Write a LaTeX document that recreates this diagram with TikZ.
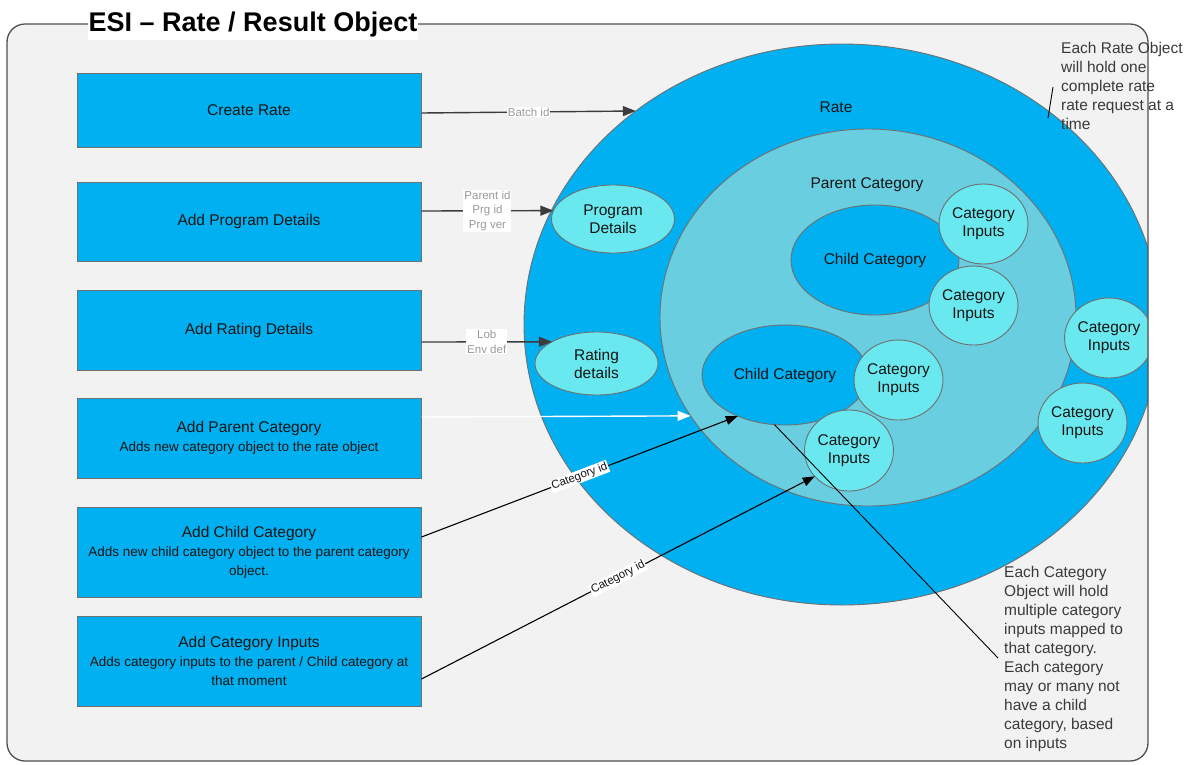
\documentclass[tikz,border=0pt]{standalone}
\usepackage{fontspec}
\setmainfont{Liberation Sans}
\usetikzlibrary{arrows.meta,shapes.geometric}
\definecolor{boxblue}{HTML}{00B0F0}
\definecolor{parentfill}{HTML}{69CEE0}
\definecolor{cyanfill}{HTML}{69E9EF}
\definecolor{edgegray}{HTML}{707070}
\definecolor{framegray}{HTML}{505050}
\definecolor{bggray}{HTML}{F2F2F2}
\definecolor{txt}{HTML}{151515}
\definecolor{lblgray}{HTML}{9A9A9A}
\definecolor{linegray}{HTML}{3C3C3C}
\definecolor{annot}{HTML}{3A3A3A}
\newcommand\boxhead{\fontsize{15.5}{19}\selectfont}
\newcommand\boxsubtext{\fontsize{13.5}{19}\selectfont}
\begin{document}
\begin{tikzpicture}[x=1pt,y=-1pt,
  stepbox/.style={draw=edgegray, fill=boxblue, line width=1pt, minimum width=344pt,
    align=center, inner sep=0pt, text=txt, font=\boxsubtext},
  bubble/.style={ellipse, draw=edgegray, line width=0.9pt, inner sep=0pt, outer sep=0pt,
    align=center, text=txt, font=\fontsize{15.5}{18}\selectfont},
  inbubble/.style={bubble, fill=cyanfill},
  edgelbl/.style={fill=white, inner sep=1pt, text=lblgray, align=center,
    font=\fontsize{11.5}{14.5}\selectfont},
  catlbl/.style={fill=white, inner sep=1pt, text=txt, font=\fontsize{11.5}{14}\selectfont},
  conn/.style={draw=linegray, line width=1.4pt, -{Triangle[length=13pt,width=10pt]}},
  catconn/.style={draw=black, line width=1.1pt, -{Triangle[length=12pt,width=9pt]}},
  annotxt/.style={align=left, inner sep=0pt, text=annot, font=\fontsize{15.5}{19}\selectfont}
]
\useasboundingbox (0,0) rectangle (1190,764);
\fill[white] (0,0) rectangle (1190,764);
\fill[bggray, rounded corners=18pt] (7,24) rectangle (1148,761);

\begin{scope}
\clip[rounded corners=18pt] (7,24) rectangle (1148,761);
\node[ellipse, draw=edgegray, line width=0.9pt, fill=boxblue, minimum width=636pt, minimum height=561pt, inner sep=0pt, outer sep=0pt] (rate) at (842,324.5) {};
\node[ellipse, draw=edgegray, line width=0.9pt, fill=parentfill, minimum width=416pt, minimum height=377pt, inner sep=0pt, outer sep=0pt] (parent) at (868,317.5) {};
\node[inbubble, minimum width=84pt, minimum height=80pt] (ci5) at (1109,338) {Category\\Inputs};
\node[inbubble, minimum width=87pt, minimum height=80pt] (ci6) at (1082.5,423) {Category\\Inputs};
\end{scope}

\node[text=txt, font=\fontsize{15.5}{18}\selectfont] (ratelbl) at (836,107) {Rate};
\node[text=txt, font=\fontsize{15.5}{18}\selectfont] (parentlbl) at (867,185) {Parent Category};

\node[inbubble, minimum width=123pt, minimum height=68pt] (progell) at (613,219) {Program\\Details};
\node[inbubble, minimum width=123pt, minimum height=63pt] (ratingell) at (596.5,363.5) {Rating\\details};

\node[bubble, fill=boxblue, minimum width=168pt, minimum height=110pt] (child1) at (875,260) {Child Category};
\node[bubble, fill=boxblue, minimum width=166pt, minimum height=100pt] (child2) at (785,375) {Child Category};
\node[inbubble, minimum width=87pt, minimum height=80pt] (ci1) at (983.5,224) {Category\\Inputs};
\node[inbubble, minimum width=87pt, minimum height=79pt] (ci2) at (973.5,305.5) {Category\\Inputs};
\node[inbubble, minimum width=83pt, minimum height=80pt] (ci3) at (898.5,380) {Category\\Inputs};
\node[inbubble, minimum width=86pt, minimum height=81pt] (ci4) at (849,450.5) {Category\\Inputs};

\draw[framegray, line width=1.3pt, rounded corners=18pt] (7,24) rectangle (1148,761);

\node[fill=white, inner xsep=1pt, inner ysep=3pt, anchor=base, text=black, font=\fontsize{27}{30}\selectfont\bfseries] (title) at (253,31.5) {ESI – Rate / Result Object};

\node[stepbox, minimum height=74pt] (create) at (249,110) {\boxhead Create Rate};
\node[stepbox, minimum height=79pt] (progbox) at (249,221.5) {\boxhead Add Program Details};
\node[stepbox, minimum height=80pt] (ratingbox) at (249,330) {\boxhead Add Rating Details};
\node[stepbox, minimum height=80pt] (parentbox) at (249,438) {\boxhead Add Parent Category\\\boxsubtext Adds new category object to the rate object};
\node[stepbox, minimum height=90pt] (childbox) at (249,552) {\boxhead Add Child Category\\\boxsubtext Adds new child category object to the parent category\\\boxsubtext object.};
\node[stepbox, minimum height=90pt] (inputsbox) at (249,661) {\boxhead Add Category Inputs\\\boxsubtext Adds category inputs to the parent / Child category at\\\boxsubtext that moment};

\draw[conn] ([yshift=-3pt]create.east) -- node[edgelbl] {Batch id} (rate.134.65);
\draw[conn] ([yshift=10.5pt]progbox.east) -- node[edgelbl] {Parent id\\Prg id\\Prg ver} (progell.172.4);
\draw[conn] ([yshift=-12pt]ratingbox.east) -- node[edgelbl] {Lob\\Env def} (ratingell.154.5);
\draw[draw=white, line width=1.4pt, -{Triangle[length=13pt,width=10pt,fill=white]}] ([yshift=21pt]parentbox.east) -- (parent.209.4);
\draw[catconn] ([yshift=15pt]childbox.east) -- node[catlbl, sloped] {Category id} (child2.221.2);
\draw[catconn] ([yshift=-18pt]inputsbox.east) -- node[catlbl, sloped] {Category id} (ci4.217.9);

\coordinate (catnote) at (998,658);
\draw[black, line width=0.9pt] (child2.258.7) -- (catnote);
\coordinate (ratenoteA) at (1048,118);
\coordinate (ratenoteB) at (1053,87);
\draw[black, line width=0.9pt] (ratenoteA) -- (ratenoteB);

\node[annotxt, anchor=north west] (ratenote) at (1061,42.5) {Each Rate Object\\will hold one\\complete rate\\rate request at a\\time};
\node[annotxt, anchor=north west] (catnotetxt) at (1004,566.5) {Each Category\\Object will hold\\multiple category\\inputs mapped to\\that category.\\Each category\\may or many not\\have a child\\category, based\\on inputs};
\end{tikzpicture}
\end{document}
